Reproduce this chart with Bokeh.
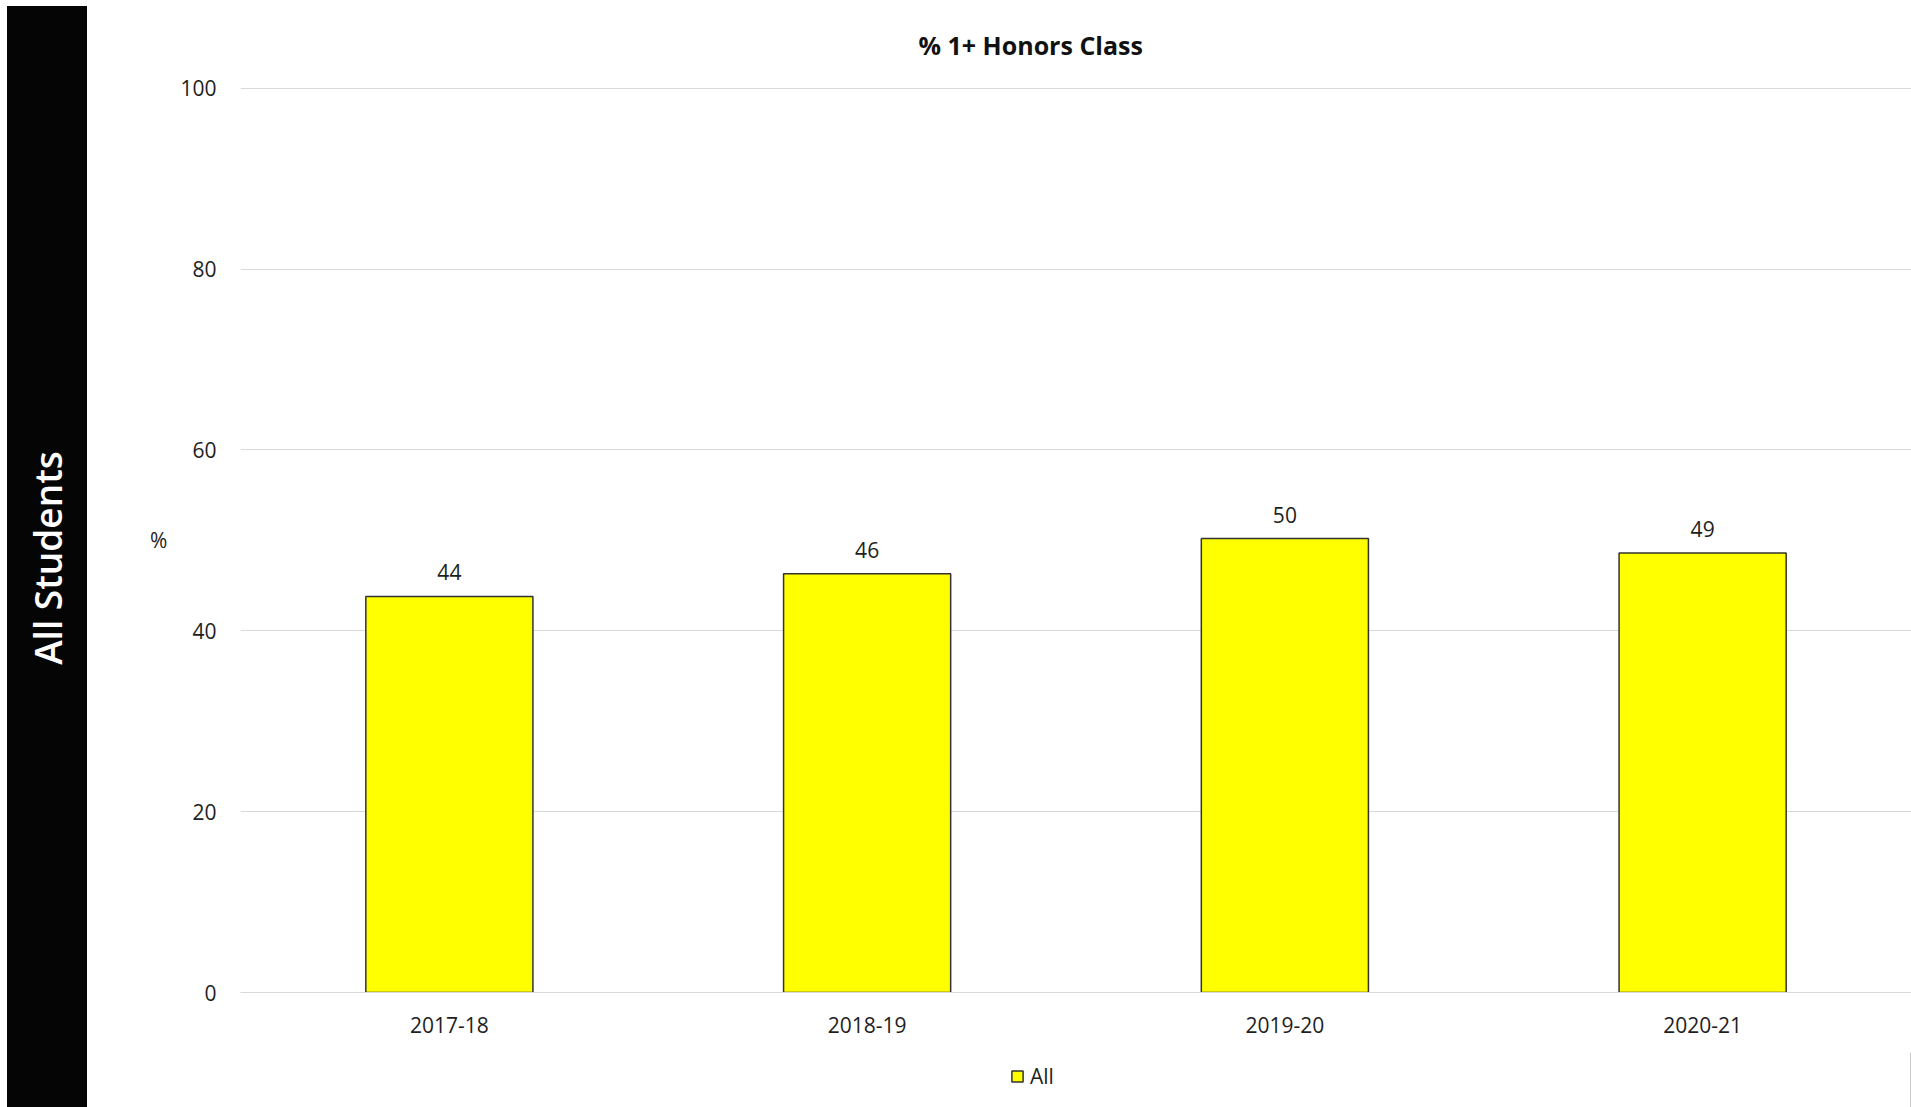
from bokeh.plotting import figure
from bokeh.models import ColumnDataSource, Legend, LegendItem, FactorRange, FixedTicker, Range1d, Div
from bokeh.layouts import row, column
from bokeh.embed import file_html
from bokeh.resources import INLINE
from bokeh.core.properties import value

# ---- data ----
years = ["2017-18", "2018-19", "2019-20", "2020-21"]
pct_all = [43.8, 46.3, 50.2, 48.6]
y_ticks = [0, 20, 40, 60, 80, 100]
title_text = "% 1+ Honors Class"
side_text = "All Students"
series_name = "All"
y_label = "%"

labels = [str(int(round(v))) for v in pct_all]
src = ColumnDataSource(dict(year=years, pct=pct_all, lab=labels))

FONT = "Open Sans"
TXT = "#1e1e1e"
BAR_FILL = "#FFFF00"
BAR_LINE = "#333333"

# ---- side black band ----
band_html = (
    '<div style="position:absolute; left:7px; top:6px; width:80px; height:1101px;'
    ' background:#050505;">'
    '<div style="position:absolute; left:40px; top:552px; transform:translate(-50%,-50%) rotate(-90deg);'
    ' white-space:nowrap; color:white; font-family:\'Open Sans\'; font-weight:600;'
    ' font-size:37px; line-height:1;">' + side_text + '</div></div>'
)
side = Div(text=band_html, width=87, height=1107,
           styles={"position": "relative", "margin": "0", "padding": "0"})

# ---- main chart ----
p = figure(x_range=FactorRange(factors=years), y_range=Range1d(0, 100.2),
           frame_width=1671, frame_height=906,
           min_border_left=153, min_border_right=0,
           min_border_top=86, min_border_bottom=60,
           output_backend="svg", toolbar_location=None, title=title_text)
p.outline_line_color = None
p.background_fill_color = "white"
p.border_fill_color = "white"

p.title.text_font = FONT
p.title.text_font_size = "25px"
p.title.text_font_style = "bold"
p.title.text_color = "#111111"
p.title.align = "left"
p.title.offset = 678
p.title.standoff = 49

bars = p.vbar(x="year", top="pct", width=0.4, source=src,
              fill_color=BAR_FILL, line_color=BAR_LINE, line_width=1.5)

p.text(x="year", y="pct", text="lab", source=src, y_offset=-24,
       text_align="center", text_baseline="middle",
       text_font=value(FONT), text_font_size="21px", text_color=TXT)

p.xgrid.visible = False
p.ygrid.grid_line_color = "#d9d9d9"
p.ygrid.grid_line_width = 1
p.yaxis.ticker = FixedTicker(ticks=y_ticks)

for ax in (p.xaxis[0], p.yaxis[0]):
    ax.major_tick_line_color = None
    ax.minor_tick_line_color = None
    ax.major_tick_out = 0
    ax.major_tick_in = 0
    ax.major_label_text_font = FONT
    ax.major_label_text_font_size = "21px"
    ax.major_label_text_color = TXT

p.yaxis.axis_line_color = None
p.yaxis.major_label_standoff = 24
p.yaxis.axis_label = y_label
p.yaxis.axis_label_orientation = "horizontal"
p.yaxis.axis_label_standoff = 10
p.yaxis.axis_label_text_font = FONT
p.yaxis.axis_label_text_font_size = "21px"
p.yaxis.axis_label_text_font_style = "normal"
p.yaxis.axis_label_text_color = TXT

p.xaxis.axis_line_color = "#d9d9d9"
p.xaxis.major_label_standoff = 24

# ---- legend strip below the chart ----
leg = figure(x_range=Range1d(0, 1), y_range=Range1d(0, 1),
             frame_width=1671, frame_height=55,
             min_border_left=153, min_border_right=0,
             min_border_top=0, min_border_bottom=0,
             x_axis_location=None, y_axis_location=None,
             output_backend="svg", toolbar_location=None)
leg.outline_line_color = None
leg.grid.visible = False
leg.background_fill_color = "white"
leg.border_fill_color = "white"
# swatch renderer: its single bar lies outside the visible range, only its legend glyph shows
swatch = leg.vbar(x=[5], top=[1], width=0.1,
                  fill_color=BAR_FILL, line_color=BAR_LINE, line_width=1.5)

legend = Legend(items=[LegendItem(label=series_name, renderers=[swatch])],
                location=(770, 17), orientation="horizontal",
                padding=0, margin=0, spacing=0,
                glyph_width=14, glyph_height=14, label_height=14,
                label_standoff=6, border_line_color=None,
                background_fill_alpha=0,
                label_text_font=FONT, label_text_font_size="21px",
                label_text_color=TXT)
leg.add_layout(legend, "center")

layout = row(side, column(p, leg, spacing=0), spacing=0)
open("out.html", "w").write(file_html(layout, INLINE))
